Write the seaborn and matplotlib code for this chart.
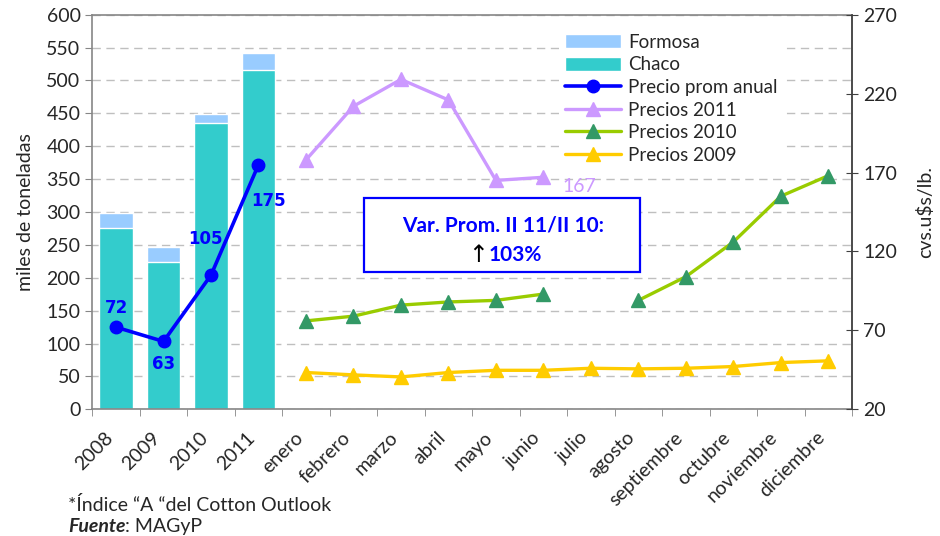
import numpy as np
import pandas as pd
import matplotlib
matplotlib.use("Agg")
import matplotlib.pyplot as plt
import matplotlib.transforms as mtransforms
import seaborn as sns
from matplotlib.patches import Patch, Rectangle
from matplotlib.lines import Line2D

# ---------- datos ----------
anios = ["2008", "2009", "2010", "2011"]
meses = ["enero", "febrero", "marzo", "abril", "mayo", "junio", "julio",
         "agosto", "septiembre", "octubre", "noviembre", "diciembre"]
categorias = anios + meses

chaco = [276, 224, 436, 516]       # miles de toneladas
formosa = [22, 23, 13, 26]
precio_prom = [72, 63, 105, 175]   # cvs.u$s/lb.

nan = np.nan
precios_2011 = [178, 212, 229, 216, 165, 167, nan, nan, nan, nan, nan, nan]
precios_2010 = [76, 79, 86, 88, 89, 93, nan, 89, 104, 126, 155, 168]
precios_2009 = [43.3, 41.8, 40.5, 43.3, 44.7, 44.7, 46, 45.6, 46, 47.1, 49.6, 50.7]

# ---------- estilo ----------
sns.set_style("white")
plt.rcParams["font.family"] = ["Lato", "DejaVu Sans"]
FS = 14

C_FORMOSA = "#99CCFF"
C_CHACO = "#33CCCC"
C_PROM = "#0000FF"
C_2011 = "#CC99FF"
C_2010 = "#99CC00"
C_2010_MK = "#339966"
C_2009 = "#FFCC00"
C_SPINE = "#868686"

fig = plt.figure(figsize=(9.4, 5.36), dpi=100)
ax = fig.add_axes([0.0982, 0.2364, 0.8082, 0.7362])

df = pd.DataFrame({"cat": anios,
                   "total": np.array(chaco) + np.array(formosa),
                   "chaco": chaco})
sns.barplot(data=df, x="cat", y="total", order=categorias, color=C_FORMOSA,
            saturation=1, width=0.7, ax=ax, zorder=2)
sns.barplot(data=df, x="cat", y="chaco", order=categorias, color=C_CHACO,
            saturation=1, width=0.7, ax=ax, zorder=2)

ax.set_xlim(-0.5, len(categorias) - 0.5)
ax.set_ylim(0, 600)
ax.set_yticks(np.arange(0, 601, 50))
ax.yaxis.grid(True, color="#BFBFBF", ls=(0, (6, 4)), lw=1)
ax.set_axisbelow(True)
ax.set_xlabel("")
ax.set_ylabel("miles de toneladas", fontsize=FS, labelpad=9)
ax.tick_params(axis="y", labelsize=FS, length=5, color=C_SPINE, direction="out", left=True)
ax.set_xticks(range(len(categorias)))
ax.set_xticklabels(categorias, rotation=45, ha="right", rotation_mode="anchor", fontsize=FS)
ax.tick_params(axis="x", length=0, pad=14)
shift = mtransforms.ScaledTranslation(-0.12, 0, fig.dpi_scale_trans)
for lab in ax.get_xticklabels():
    lab.set_transform(lab.get_transform() + shift)
ax.set_xticks(np.arange(-0.5, len(categorias), 1), minor=True)
ax.tick_params(axis="x", which="minor", length=5, color=C_SPINE, direction="out", bottom=True)
for s in ax.spines.values():
    s.set_color(C_SPINE)
    s.set_linewidth(1.2)

# ---------- eje derecho: precios ----------
ax2 = ax.twinx()
ax2.set_ylim(20, 270)
ax2.set_yticks(np.arange(20, 271, 50))
ax2.tick_params(axis="y", labelsize=FS, length=9, direction="inout", color="#404040", right=True)
ax2.set_ylabel("cvs.u$s/lb.", fontsize=FS, labelpad=14)
for s in ax2.spines.values():
    s.set_visible(False)
ax2.spines["right"].set_visible(True)
ax2.spines["right"].set_color("#404040")
ax2.spines["right"].set_linewidth(1.2)

x_anios = np.arange(len(anios))
x_meses = np.arange(len(anios), len(categorias))

ax2.plot(x_meses, precios_2009, color=C_2009, lw=2.4, marker="^", ms=10,
         mfc=C_2009, mec=C_2009, zorder=3)
ax2.plot(x_meses, precios_2010, color=C_2010, lw=2.4, marker="^", ms=10,
         mfc=C_2010_MK, mec=C_2010_MK, zorder=3)
ax2.plot(x_meses, precios_2011, color=C_2011, lw=2.4, marker="^", ms=10,
         mfc=C_2011, mec=C_2011, zorder=3)
ax2.plot(x_anios, precio_prom, color=C_PROM, lw=2.6, marker="o", ms=9,
         mfc=C_PROM, mec=C_PROM, zorder=4)

offs = [(0, 14), (0, -16), (-4, 26), (7, -26)]
for xi, v, o in zip(x_anios, precio_prom, offs):
    ax2.annotate(f"{v}", (xi, v), xytext=o, textcoords="offset points",
                 ha="center", va="center", color=C_PROM, fontsize=FS - 2,
                 fontweight="bold", family="DejaVu Sans")

ax2.annotate(f"{precios_2011[5]:.0f}", (x_meses[5], precios_2011[5]), xytext=(14, -7),
             textcoords="offset points", ha="left", va="center", color=C_2011,
             fontsize=FS)

# ---------- cuadro de variación ----------
ax2.add_patch(Rectangle((0.3577, 0.348), 0.3633, 0.1875, transform=ax2.transAxes,
                        facecolor="white", edgecolor=C_PROM, lw=1.6, zorder=5))
ax2.text(0.5406, 0.4645, "Var. Prom. II 11/II 10:", transform=ax2.transAxes,
         ha="center", va="center", color=C_PROM, fontsize=15, fontweight="bold", zorder=6)
ax2.text(0.521, 0.391, "↑", transform=ax2.transAxes, ha="right", va="center",
         color="black", fontsize=17, family="DejaVu Sans", zorder=6)
ax2.text(0.521, 0.391, "103%", transform=ax2.transAxes, ha="left", va="center",
         color=C_PROM, fontsize=15, fontweight="bold", zorder=6)

# ---------- leyenda ----------
handles = [
    Patch(facecolor=C_FORMOSA, label="Formosa"),
    Patch(facecolor=C_CHACO, label="Chaco"),
    Line2D([], [], color=C_PROM, lw=2.6, marker="o", ms=9, label="Precio prom anual"),
    Line2D([], [], color=C_2011, lw=2.4, marker="^", ms=10, label="Precios 2011"),
    Line2D([], [], color=C_2010, lw=2.4, marker="^", ms=10, mfc=C_2010_MK,
           mec=C_2010_MK, label="Precios 2010"),
    Line2D([], [], color=C_2009, lw=2.4, marker="^", ms=10, label="Precios 2009"),
]
leg = ax2.legend(handles=handles, loc="upper left", bbox_to_anchor=(0.602, 0.99),
                 fontsize=13.5, frameon=True, facecolor="white", edgecolor="none",
                 framealpha=1, handlelength=3.0, handleheight=0.8,
                 labelspacing=0.3, borderpad=0.3, handletextpad=0.4)
leg.set_zorder(7)

# ---------- notas ----------
fig.text(0.0723, 0.058, "*Índice “A “del Cotton Outlook", fontsize=FS, va="center")
t = fig.text(0.0723, 0.017, "Fuente", fontsize=FS, va="center",
             fontweight="bold", fontstyle="italic")
fig.canvas.draw()
bb = t.get_window_extent()
fig.text(bb.x1 / fig.bbox.width, 0.017, ": MAGyP", fontsize=FS, va="center")

fig.savefig("out.png", dpi=100)
